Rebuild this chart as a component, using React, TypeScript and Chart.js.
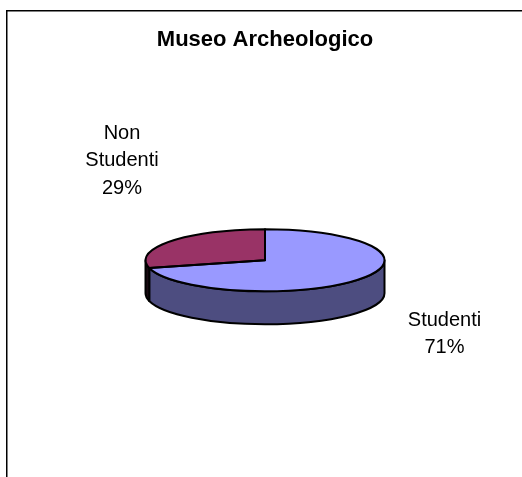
import React, { useEffect, useRef } from "react";
import { Chart, registerables } from "chart.js";

Chart.register(...registerables);

const titleText = "Museo Archeologico";
const categories = ["Studenti", "Non Studenti"];
const values = [71, 29];
const topColors = ["#9999FF", "#993366"];
const wallColors = ["#4D4D80", "#1A0A12"];
const labelLines = [["Studenti"], ["Non", "Studenti"]];
const labelCenters = [
  { x: 444.5, y: 320 },
  { x: 122, y: 133 },
];

const FONT = '"Liberation Sans", Arial, sans-serif';
const SQUASH = 31 / 119.5;
const DEPTH = 33;

const pie3d = {
  id: "pie3d",
  beforeDraw(chart: any) {
    const { ctx, width, height } = chart;
    ctx.save();
    ctx.fillStyle = "#ffffff";
    ctx.fillRect(0, 0, width, height);
    ctx.strokeStyle = "#000000";
    ctx.lineWidth = 1.5;
    ctx.beginPath();
    ctx.moveTo(6.75, height);
    ctx.lineTo(6.75, 10.75);
    ctx.lineTo(width, 10.75);
    ctx.stroke();
    ctx.restore();
  },
  beforeDatasetsDraw(chart: any) {
    const { ctx } = chart;
    const arcs = chart.getDatasetMeta(0).data;
    ctx.save();
    ctx.lineWidth = 2;
    ctx.strokeStyle = "#000000";
    ctx.lineJoin = "round";
    arcs.forEach((arc: any, i: number) => {
      const { x, y, outerRadius: r, startAngle, endAngle } = arc;
      const ry = r * SQUASH;
      // Only the front of the pie shows a wall (canvas angles 0..PI).
      const spans = [
        [startAngle, endAngle],
        [startAngle - 2 * Math.PI, endAngle - 2 * Math.PI],
      ];
      spans.forEach(([s0, e0]) => {
        const s = Math.max(s0, 0);
        const e = Math.min(e0, Math.PI);
        if (e <= s) return;
        ctx.beginPath();
        ctx.ellipse(x, y + DEPTH, r, ry, 0, s, e, false);
        ctx.ellipse(x, y, r, ry, 0, e, s, true);
        ctx.closePath();
        ctx.fillStyle = wallColors[i];
        ctx.fill();
        ctx.stroke();
      });
    });
    ctx.restore();
    // Squash the library's own slices into the pie's top face.
    const c = arcs[0];
    ctx.save();
    ctx.translate(0, c.y);
    ctx.scale(1, SQUASH);
    ctx.translate(0, -c.y);
  },
  afterDatasetsDraw(chart: any) {
    const { ctx } = chart;
    ctx.restore();
    const arcs = chart.getDatasetMeta(0).data;
    const total = values.reduce((a, b) => a + b, 0);
    ctx.save();
    ctx.lineWidth = 2;
    ctx.strokeStyle = "#000000";
    ctx.lineJoin = "round";
    arcs.forEach((arc: any) => {
      const { x, y, outerRadius: r, startAngle, endAngle } = arc;
      const ry = r * SQUASH;
      ctx.beginPath();
      ctx.moveTo(x, y);
      ctx.ellipse(x, y, r, ry, 0, startAngle, endAngle, false);
      ctx.closePath();
      ctx.stroke();
    });
    ctx.fillStyle = "#000000";
    ctx.font = `20px ${FONT}`;
    ctx.textAlign = "center";
    ctx.textBaseline = "middle";
    const lineHeight = 27.5;
    labelLines.forEach((lines, i) => {
      const pct = `${Math.round((values[i] / total) * 100)}%`;
      [...lines, pct].forEach((t, j) => {
        ctx.fillText(t, labelCenters[i].x, labelCenters[i].y + j * lineHeight);
      });
    });
    ctx.restore();
  },
};

export default function App() {
  const ref = useRef<HTMLCanvasElement>(null);
  useEffect(() => {
    const chart = new Chart(ref.current as HTMLCanvasElement, {
      type: "pie",
      data: {
        labels: categories,
        datasets: [{ data: values, backgroundColor: topColors, borderWidth: 0 }],
      },
      options: {
        animation: false,
        responsive: false,
        layout: { padding: { left: 145.5, right: 137.5, top: 0, bottom: 97 } },
        plugins: {
          legend: { display: false },
          tooltip: { enabled: false },
          title: {
            display: true,
            text: titleText,
            color: "#000000",
            font: { family: FONT, size: 22, weight: "bold", lineHeight: 1.2 },
            padding: { top: 27, bottom: 87.1 },
          },
        },
      },
      plugins: [pie3d],
    } as any);
    return () => chart.destroy();
  }, []);
  return (
    <div style={{ position: "fixed", left: 0, top: 0, width: 522, height: 477, background: "#fff" }}>
      <canvas ref={ref} width={522} height={477} style={{ display: "block" }} />
    </div>
  );
}
